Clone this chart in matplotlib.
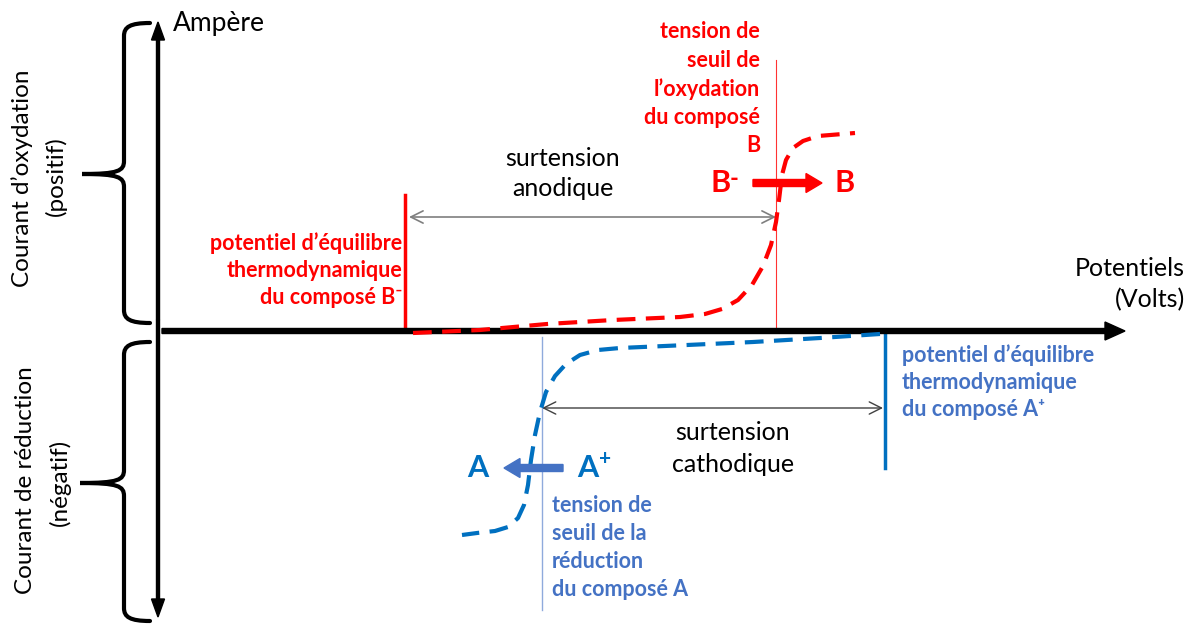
import numpy as np
import matplotlib
matplotlib.use("Agg")
import matplotlib.pyplot as plt
from matplotlib.path import Path
from matplotlib.patches import PathPatch

plt.rcParams['font.family'] = ['Lato', 'DejaVu Sans']

RED = '#ff0000'
BLUE = '#0070c0'
BLUE_TXT = '#4472c4'
BLUE_THIN = '#8faadc'

# courbe d'oxydation (B- -> B), coordonnées en pixels du schéma
ox_x = [413, 480, 547, 613, 680, 705, 722, 738, 752, 763, 771, 776, 779, 782, 786, 793, 803, 818, 855]
ox_y = [333, 330, 324, 320, 317, 314, 309, 300, 285, 266, 245, 222, 200, 175, 160, 148, 141, 136, 133]

# courbe de réduction (A+ -> A)
red_x = [880, 820, 753, 687, 620, 598, 580, 566, 555, 546, 540, 535, 531, 528, 524, 518, 508, 495, 477, 462]
red_y = [334, 338, 342, 345, 348, 350, 355, 364, 376, 392, 412, 435, 460, 485, 505, 518, 527, 531, 533, 535]

# potentiels remarquables
E_eq_B = 405
E_seuil_B = 776
E_eq_A = 885
E_seuil_A = 542

fig = plt.figure(figsize=(11.92, 6.24), dpi=100)
ax = fig.add_axes([0, 0, 1, 1])
ax.set_xlim(0, 1192)
ax.set_ylim(624, 0)
ax.axis('off')

# axes
ax.arrow(162, 331, 963, 0, width=5, head_width=18, head_length=20,
         length_includes_head=True, color='k', zorder=3)
ax.arrow(158, 320, 0, -298, width=3, head_width=13, head_length=18,
         length_includes_head=True, color='k', zorder=3)
ax.arrow(158, 320, 0, 297, width=3, head_width=13, head_length=18,
         length_includes_head=True, color='k', zorder=3)


def brace(x_end, x_spine, x_tip, y_top, y_tip, y_bot, r=13):
    verts = [(x_end, y_top),
             (x_spine + 6, y_top), (x_spine, y_top + 4), (x_spine, y_top + r),
             (x_spine, y_tip - r),
             (x_spine, y_tip - 3), (x_spine - 6, y_tip), (x_tip, y_tip),
             (x_spine - 6, y_tip), (x_spine, y_tip + 3), (x_spine, y_tip + r),
             (x_spine, y_bot - r),
             (x_spine, y_bot - 4), (x_spine + 6, y_bot), (x_end, y_bot)]
    codes = [Path.MOVETO,
             Path.CURVE4, Path.CURVE4, Path.CURVE4,
             Path.LINETO,
             Path.CURVE4, Path.CURVE4, Path.CURVE4,
             Path.CURVE4, Path.CURVE4, Path.CURVE4,
             Path.LINETO,
             Path.CURVE4, Path.CURVE4, Path.CURVE4]
    ax.add_patch(PathPatch(Path(verts, codes), fill=False, lw=3, color='k',
                           capstyle='round'))


brace(150, 124, 82, 23, 174, 323)
brace(150, 124, 80, 342, 483, 621)

ax.text(173, 24, 'Ampère', fontsize=19, ha='left', va='center')
ax.text(22, 178, 'Courant d\u2019oxydation', fontsize=17.5, rotation=90,
        ha='center', va='center')
ax.text(56, 176, '(positif)', fontsize=17.5, rotation=90, ha='center', va='center')
ax.text(26, 480, 'Courant de réduction', fontsize=17.5, rotation=90,
        ha='center', va='center')
ax.text(60, 482, '(négatif)', fontsize=17.5, rotation=90, ha='center', va='center')
ax.text(1185, 269, 'Potentiels', fontsize=18, ha='right', va='center')
ax.text(1185, 300, '(Volts)', fontsize=18, ha='right', va='center')

# courbes
ax.plot(ox_x, ox_y, color=RED, lw=3, dashes=(4.5, 2.5), zorder=4)
ax.plot(red_x, red_y, color=BLUE, lw=3, dashes=(4.5, 2.5), zorder=4)

# potentiels d'équilibre et seuils
ax.plot([E_eq_B, E_eq_B], [195, 330], color=RED, lw=2.5)
ax.plot([E_seuil_B, E_seuil_B], [60, 331], color=RED, lw=0.8, alpha=0.8)
ax.plot([E_eq_A, E_eq_A], [335, 468], color=BLUE, lw=2.5)
ax.plot([E_seuil_A, E_seuil_A], [337, 610], color=BLUE_THIN, lw=1)

# surtensions
ax.annotate('', xy=(E_eq_B + 4, 217), xytext=(E_seuil_B, 217),
            arrowprops=dict(arrowstyle='<->', color='#7f7f7f', lw=1.2,
                            mutation_scale=22, shrinkA=0, shrinkB=0))
ax.text(563, 158, 'surtension', fontsize=18, ha='center', va='center')
ax.text(563, 189, 'anodique', fontsize=18, ha='center', va='center')
ax.annotate('', xy=(E_seuil_A, 408), xytext=(E_eq_A - 2, 408),
            arrowprops=dict(arrowstyle='<->', color='#404040', lw=1.0,
                            mutation_scale=22, shrinkA=0, shrinkB=0))
ax.text(733, 432, 'surtension', fontsize=18, ha='center', va='center')
ax.text(733, 465, 'cathodique', fontsize=18, ha='center', va='center')

# réactions
ax.text(721, 183, 'B', fontsize=22, fontweight='bold', color=RED,
        ha='center', va='center')
ax.text(734, 178, '-', fontsize=17, fontweight='bold', color=RED,
        ha='center', va='center')
ax.arrow(753, 183, 69, 0, width=7, head_width=19, head_length=16,
         length_includes_head=True, color=RED, zorder=5)
ax.text(845, 183, 'B', fontsize=22, fontweight='bold', color=RED,
        ha='center', va='center')
ax.text(478, 468, 'A', fontsize=22, fontweight='bold', color=BLUE,
        ha='center', va='center')
ax.arrow(563, 468, -59, 0, width=7, head_width=19, head_length=16,
         length_includes_head=True, color=BLUE_TXT, zorder=5)
ax.text(588, 468, 'A', fontsize=22, fontweight='bold', color=BLUE,
        ha='center', va='center')
ax.text(605, 459, '+', fontsize=15, fontweight='bold', color=BLUE,
        ha='center', va='center')

# légendes
for i, s in enumerate(['potentiel d\u2019équilibre', 'thermodynamique',
                       'du composé B\u207b']):
    ax.text(402, 243 + 27.5 * i, s, fontsize=15.5, fontweight='bold', color=RED,
            ha='right', va='center')
for i, s in enumerate(['tension de', 'seuil de', 'l\u2019oxydation',
                       'du composé', 'B']):
    ax.text(760, 32 + 28.5 * i, s, fontsize=15.5, fontweight='bold', color=RED,
            ha='right', va='center')
for i, s in enumerate(['potentiel d\u2019équilibre', 'thermodynamique',
                       'du composé A\u207a']):
    ax.text(902, 355 + 27.5 * i, s, fontsize=15.5, fontweight='bold',
            color=BLUE_TXT, ha='left', va='center')
for i, s in enumerate(['tension de', 'seuil de la', 'réduction',
                       'du composé A']):
    ax.text(552, 506 + 28 * i, s, fontsize=15.5, fontweight='bold',
            color=BLUE_TXT, ha='left', va='center')

fig.savefig('out.png', dpi=100)
